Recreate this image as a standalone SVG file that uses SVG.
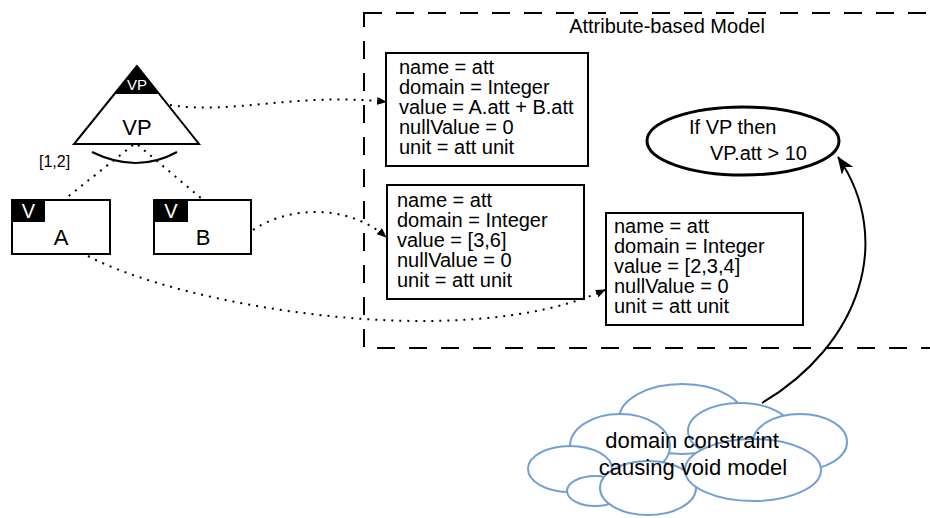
<svg xmlns="http://www.w3.org/2000/svg" width="930" height="518" viewBox="0 0 930 518">
<style>
text{font-family:"Liberation Sans",Arial,sans-serif;fill:#000}
.box{fill:#fff;stroke:#000;stroke-width:2}
.t20{font-size:20px}
.t22{font-size:22px}
.dot{fill:none;stroke:#000;stroke-width:2;stroke-dasharray:2 6}
.cl{fill:#fff;stroke:#729fd4;stroke-width:2}
.tab{fill:#000}
.wt{fill:#fff}
</style>
<defs>
<marker id="sa" markerUnits="userSpaceOnUse" markerWidth="10" markerHeight="8" refX="9" refY="4" orient="auto"><path d="M0,0 L10,4 L0,8 Z" fill="#000"/></marker>
<marker id="ba" markerUnits="userSpaceOnUse" markerWidth="18" markerHeight="14" refX="17" refY="7" orient="auto"><path d="M0,0 L18,7 L0,14 L5,7 Z" fill="#000"/></marker>
</defs>
<rect x="0" y="0" width="930" height="518" fill="#fff"/>

<g id="model-frame">
<rect x="364" y="13" width="600" height="335" fill="none" stroke="#000" stroke-width="2" stroke-dasharray="18 14"/>
<text class="t20" x="667" y="33" text-anchor="middle">Attribute-based Model</text>
</g>

<g id="vp">
<polygon points="137,66 74,144 199,144" fill="#fff"/>
<polygon points="137,66 114.5,94 159.5,94" fill="#000"/>
<polygon points="137,66 74,144 199,144" fill="none" stroke="#000" stroke-width="2"/>
<text x="137" y="90" font-size="15" text-anchor="middle" class="wt">VP</text>
<text class="t22" x="137" y="135" text-anchor="middle">VP</text>
<path d="M92,152 Q137,174 177,152" fill="none" stroke="#000" stroke-width="2"/>
</g>

<g id="cardinality">
<text x="39" y="167" font-size="16">[1,2]</text>
</g>

<g id="a">
<rect class="box" x="12" y="200" width="98" height="54"/>
<rect class="tab" x="12" y="200" width="33" height="22"/>
<text class="t20 wt" x="28.5" y="218" text-anchor="middle">V</text>
<text class="t22" x="61" y="245" text-anchor="middle">A</text>
</g>

<g id="b">
<rect class="box" x="154" y="200" width="97" height="54"/>
<rect class="tab" x="154" y="200" width="34" height="22"/>
<text class="t20 wt" x="171" y="218" text-anchor="middle">V</text>
<text class="t22" x="203" y="245" text-anchor="middle">B</text>
</g>

<g id="attr-vp">
<rect class="box" x="386" y="53" width="202" height="113"/>
<text class="t20" x="399" y="74">name = att</text>
<text class="t20" x="399" y="94">domain = Integer</text>
<text class="t20" x="399" y="114">value = A.att + B.att</text>
<text class="t20" x="399" y="134">nullValue = 0</text>
<text class="t20" x="399" y="154">unit = att unit</text>
</g>

<g id="attr-b">
<rect class="box" x="387" y="185" width="197" height="114"/>
<text class="t20" x="397" y="207">name = att</text>
<text class="t20" x="397" y="227">domain = Integer</text>
<text class="t20" x="397" y="247">value = [3,6]</text>
<text class="t20" x="397" y="267">nullValue = 0</text>
<text class="t20" x="397" y="287">unit = att unit</text>
</g>

<g id="attr-a">
<rect class="box" x="606" y="213" width="197" height="112"/>
<text class="t20" x="614" y="233">name = att</text>
<text class="t20" x="614" y="253">domain = Integer</text>
<text class="t20" x="614" y="273">value = [2,3,4]</text>
<text class="t20" x="614" y="293">nullValue = 0</text>
<text class="t20" x="614" y="313">unit = att unit</text>
</g>

<g id="constraint">
<ellipse cx="743" cy="141" rx="96" ry="34" fill="#fff" stroke="#000" stroke-width="3"/>
<text class="t20" x="689" y="134">If VP then</text>
<text class="t20" x="710" y="160">VP.att &gt; 10</text>
</g>

<g id="cloud">
<ellipse class="cl" cx="682" cy="419" rx="63" ry="35"/>
<ellipse class="cl" cx="620" cy="446" rx="50" ry="32"/>
<ellipse class="cl" cx="740" cy="431" rx="52" ry="28"/>
<ellipse class="cl" cx="800" cy="442" rx="47" ry="28"/>
<ellipse class="cl" cx="570" cy="469" rx="42" ry="23"/>
<ellipse class="cl" cx="595" cy="491" rx="28" ry="15"/>
<ellipse class="cl" cx="648" cy="488" rx="48" ry="27"/>
<ellipse class="cl" cx="753" cy="470" rx="68" ry="31"/>
<text class="t22" x="692" y="448" text-anchor="middle">domain constraint</text>
<text class="t22" x="693" y="475" text-anchor="middle">causing void model</text>
</g>

<g id="connectors">
<path class="dot" d="M133,145 L65,199"/>
<path class="dot" d="M138,145 L202,199"/>
<path class="dot" d="M170,105 C230,115 300,92 386,102" marker-end="url(#sa)"/>
<path class="dot" d="M253,230 C290,205 350,205 386,237" marker-end="url(#sa)"/>
<path class="dot" d="M88,256 C180,305 460,355 605,290" marker-end="url(#sa)"/>
<path d="M762,403 C860,345 895,240 838,157" fill="none" stroke="#000" stroke-width="2" marker-end="url(#ba)"/>
</g>
</svg>
